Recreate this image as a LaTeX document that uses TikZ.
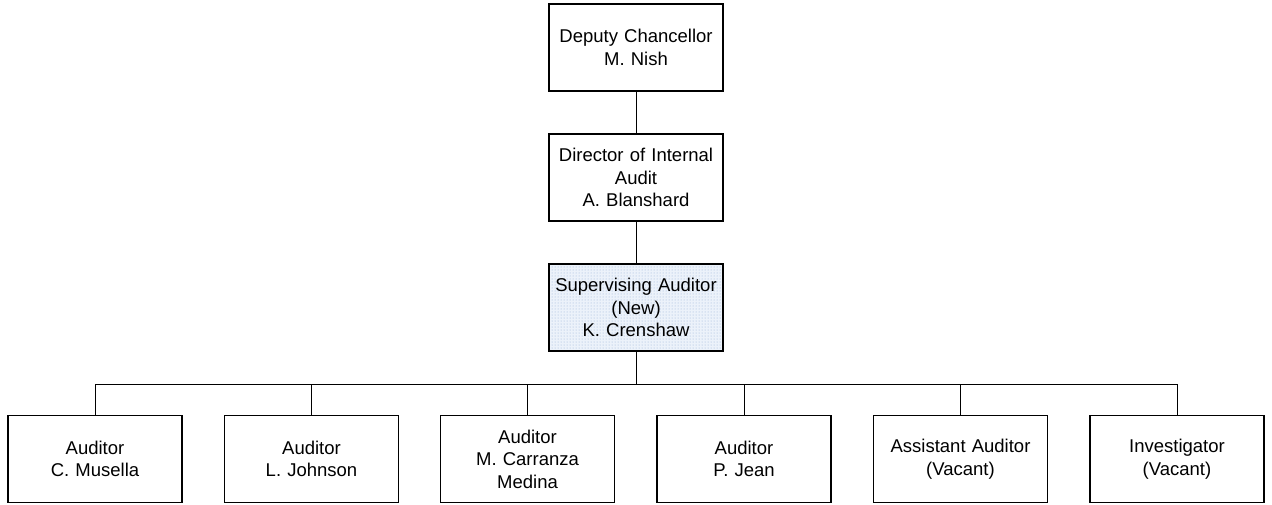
\documentclass[tikz,border=0pt]{standalone}
\usepackage{fontspec}
\setmainfont{Liberation Sans}
\usetikzlibrary{patterns}
\definecolor{dotblue}{RGB}{150,175,215}
\definecolor{shadebg}{RGB}{236,242,250}
\tikzset{
  x=1pt, y=-1pt,
  box/.style={draw=black, line width=1.6pt, fill=white, minimum width=174pt, minimum height=87pt,
    inner sep=0pt, align=center, font=\fontsize{18.5}{22.5}\selectfont, text width=172pt},
  shaded/.style={box, fill=shadebg},
  conn/.style={draw=black, line width=0.9pt},
}
\begin{document}
\begin{tikzpicture}
\useasboundingbox (0,0) rectangle (1272,504);
\node[box] (dc) at (636,47.5) {Deputy Chancellor\\M. Nish};
\node[box] (dir) at (636,177.5) {Director of Internal\\Audit\\A. Blanshard};
\node[shaded] (sup) at (636,307.5) {};
\fill[pattern=dots, pattern color=dotblue] (sup.south west) rectangle (sup.north east);
\node[box, fill=none] (supt) at (636,307.5) {Supervising Auditor\\(New)\\K. Crenshaw};
\node[box] (a1) at (95,459) {Auditor\\C. Musella};
\node[box] (a2) at (311.5,459) {Auditor\\L. Johnson};
\node[box] (a3) at (527.5,459) {Auditor\\M. Carranza\\Medina};
\node[box] (a4) at (744,459) {Auditor\\P. Jean};
\node[box] (a5) at (960.5,459) {Assistant Auditor\\(Vacant)};
\node[box] (a6) at (1177,459) {Investigator\\(Vacant)};
\coordinate (bus) at (636,384);
\draw[conn] (dc.south) -- (dir.north);
\draw[conn] (dir.south) -- (supt.north);
\draw[conn] (supt.south) -- (bus);
\foreach \n in {a1,a2,a3,a4,a5,a6}{
  \draw[conn] (\n.north) -- (\n.north |- bus) -- (bus);
}
\end{tikzpicture}
\end{document}
